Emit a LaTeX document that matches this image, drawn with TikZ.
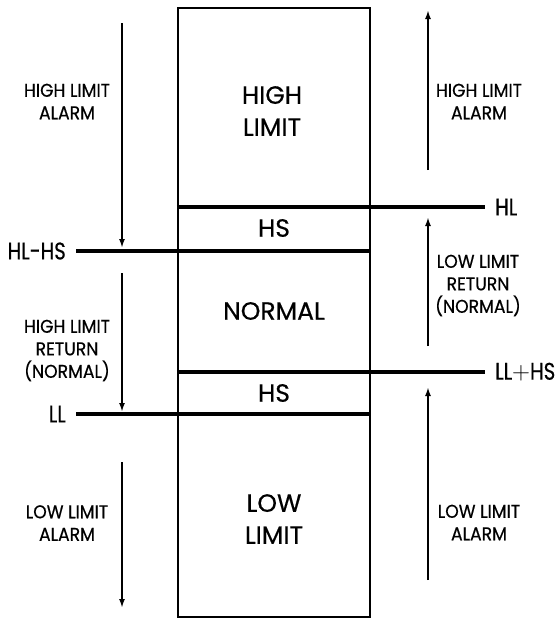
\documentclass[tikz,border=0pt]{standalone}
\usepackage{fontspec}
\setmainfont{Poppins}[FakeBold=0.5]
\newfontfamily\notefont{Poppins}[FakeStretch=0.93, FakeBold=0.5]
\newfontfamily\levelfont{Poppins}[FakeStretch=0.82, FakeBold=0.5]
\usetikzlibrary{arrows.meta}

\tikzset{
  levelline/.style={line width=4.5pt},
  flowarrow/.style={line width=1.8pt, -{Latex[length=9pt,width=6pt]}},
  smalltext/.style={align=center, inner sep=0pt, font=\notefont\fontsize{18.5}{22.5}\selectfont},
  bigtext/.style={align=center, inner sep=0pt, font=\fontsize{25}{32}\selectfont},
  leveltext/.style={inner sep=0pt, font=\levelfont\fontsize{24}{28}\selectfont},
}

\begin{document}
\begin{tikzpicture}[x=1pt, y=-1pt]
  \useasboundingbox (0,0) rectangle (559,619);
  % the scale
  \node [draw, line width=2.5pt, minimum width=192, minimum height=609] (box) at (274,312.5) {};
  \node [bigtext] (high) at (272,111) {HIGH\\LIMIT};
  \node [bigtext] (hs1) at (274,228) {HS};
  \node [bigtext] (normal) at (274,311) {NORMAL};
  \node [bigtext] (hs2) at (274,393) {HS};
  \node [bigtext] (low) at (274,519) {LOW\\LIMIT};

  % levels
  \node [leveltext, anchor=west] (hl) at (495,207) {HL};
  \node [leveltext, anchor=east] (hlhs) at (66,251) {HL-HS};
  \node [leveltext, anchor=west] (llhs) at (495,372) {LL$+$HS};
  \node [leveltext, anchor=east] (ll) at (66,414) {LL};
  \draw [levelline] (box.west |- hl.west) -- ([xshift=-10pt]hl.west);
  \draw [levelline] ([xshift=10pt]hlhs.east) -- (box.east |- hlhs.east);
  \draw [levelline] (box.west |- llhs.west) -- ([xshift=-10pt]llhs.west);
  \draw [levelline] ([xshift=10pt]ll.east) -- (box.east |- ll.east);

  % falling values
  \draw [flowarrow] (122,23) -- (122,248);
  \draw [flowarrow] (122,273) -- (122,412);
  \draw [flowarrow] (122,462) -- (122,608);
  \node [smalltext] (hla1) at (67,101.5) {HIGH LIMIT\\ALARM};
  \node [smalltext] (hlr) at (67,350.5) {HIGH LIMIT\\RETURN\\(NORMAL)};
  \node [smalltext] (lla1) at (67,523) {LOW LIMIT\\ALARM};

  % rising values
  \draw [flowarrow] (428,170) -- (428,10);
  \draw [flowarrow] (428,346) -- (428,217);
  \draw [flowarrow] (428,580) -- (428,387);
  \node [smalltext] (hla2) at (479,101.5) {HIGH LIMIT\\ALARM};
  \node [smalltext] (llr) at (478,285.5) {LOW LIMIT\\RETURN\\(NORMAL)};
  \node [smalltext] (lla2) at (479,522.5) {LOW LIMIT\\ALARM};
\end{tikzpicture}
\end{document}
